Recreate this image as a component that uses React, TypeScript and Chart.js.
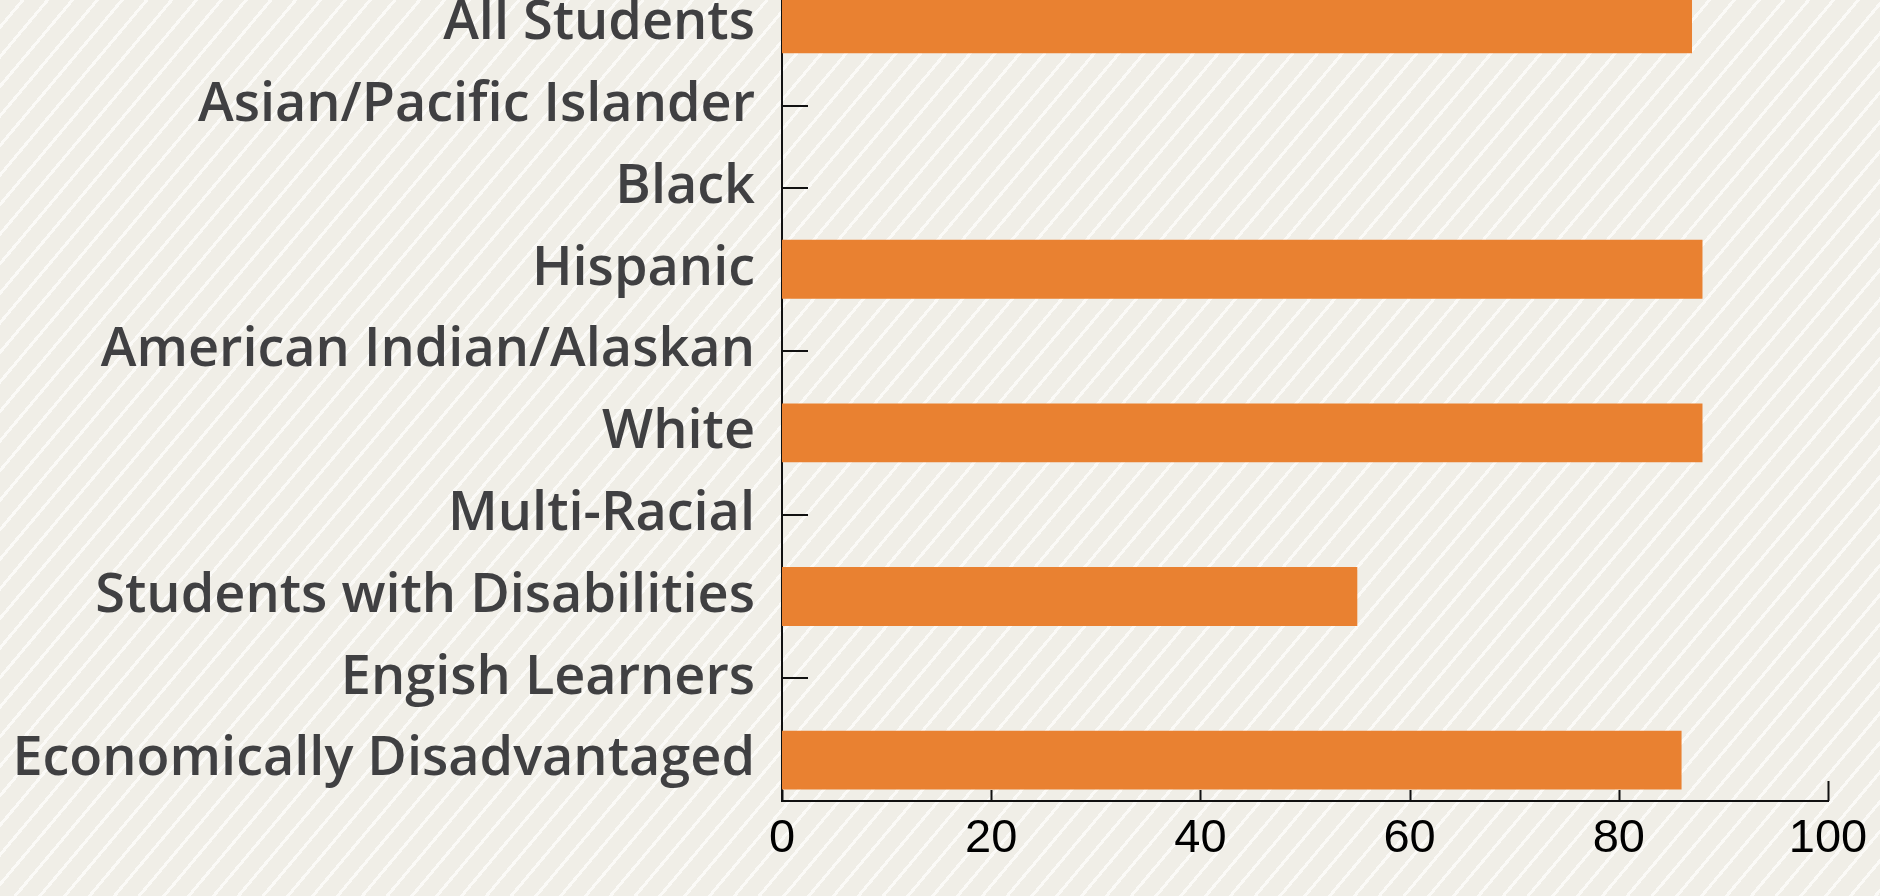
import React, { useEffect, useRef } from "react";
import { Chart, registerables } from "chart.js";

Chart.register(...registerables);

const categories: string[] = [
  "All Students",
  "Asian/Pacific Islander",
  "Black",
  "Hispanic",
  "American Indian/Alaskan",
  "White",
  "Multi-Racial",
  "Students with Disabilities",
  "Engish Learners",
  "Economically Disadvantaged",
];
const values: (number | null)[] = [87, null, null, 88, null, 88, null, 55, null, 86];
const xMin = 0;
const xMax = 100;
const xStep = 20;

const BAR = "#E98131";
const LABEL = "#404042";

const innerTicks = {
  id: "innerTicks",
  beforeDatasetsDraw(chart: any) {
    const { ctx, chartArea, scales } = chart;
    const y = scales.y;
    const x = scales.x;
    ctx.save();
    ctx.strokeStyle = "#111";
    ctx.lineWidth = 2;
    ctx.beginPath();
    y.ticks.forEach((_t: any, i: number) => {
      const py = Math.round(y.getPixelForTick(i));
      ctx.moveTo(chartArea.left, py);
      ctx.lineTo(chartArea.left + 26, py);
    });
    x.ticks.forEach((_t: any, i: number) => {
      const px = Math.round(x.getPixelForTick(i)) + 0.5;
      const len = i === x.ticks.length - 1 ? 20 : 11;
      ctx.moveTo(px, chartArea.bottom);
      ctx.lineTo(px, chartArea.bottom - len);
    });
    ctx.stroke();
    ctx.restore();
  },
};

export default function App() {
  const ref = useRef<HTMLCanvasElement>(null);
  useEffect(() => {
    document.body.style.margin = "0";
    const canvas = ref.current!;
    const chart = new Chart(canvas, {
      type: "bar",
      data: {
        labels: categories,
        datasets: [
          {
            data: values as any,
            backgroundColor: BAR,
            borderWidth: 0,
            categoryPercentage: 1,
            barPercentage: 0.72,
          },
        ],
      },
      options: {
        indexAxis: "y",
        animation: false,
        responsive: false,
        devicePixelRatio: 1,
        layout: { padding: { left: 0, right: 52, top: 0, bottom: 0 } },
        plugins: { legend: { display: false }, tooltip: { enabled: false } },
        scales: {
          y: {
            type: "category",
            offset: true,
            grid: { display: false, drawTicks: false },
            border: { display: true, color: "#111", width: 2 },
            ticks: {
              padding: 27,
              color: LABEL,
              font: { family: "Open Sans", weight: 600, size: 54 },
            },
            afterFit: (s: any) => {
              s.width = 782;
              s.paddingTop = 0;
              s.paddingBottom = 0;
            },
          },
          x: {
            type: "linear",
            min: xMin,
            max: xMax,
            grid: { display: false, drawTicks: false },
            border: { display: true, color: "#111", width: 2 },
            ticks: {
              stepSize: xStep,
              padding: 10,
              color: "#000",
              font: { family: "Liberation Sans", size: 47 },
            },
            afterFit: (s: any) => {
              s.height = 95;
            },
          },
        },
      },
      plugins: [innerTicks],
    });
    return () => chart.destroy();
  }, []);

  return (
    <div
      style={{
        position: "fixed",
        left: 0,
        top: 0,
        width: 1880,
        height: 896,
        overflow: "hidden",
        backgroundColor: "#F0EEE7",
        backgroundImage:
          "repeating-linear-gradient(130deg, #F0EEE7 0px, #F0EEE7 16px, #FBFAF7 16px, #FBFAF7 19px)",
      }}
    >
      <canvas
        ref={ref}
        width={1880}
        height={913}
        style={{ position: "absolute", left: 0, top: -17, width: 1880, height: 913 }}
      />
    </div>
  );
}
